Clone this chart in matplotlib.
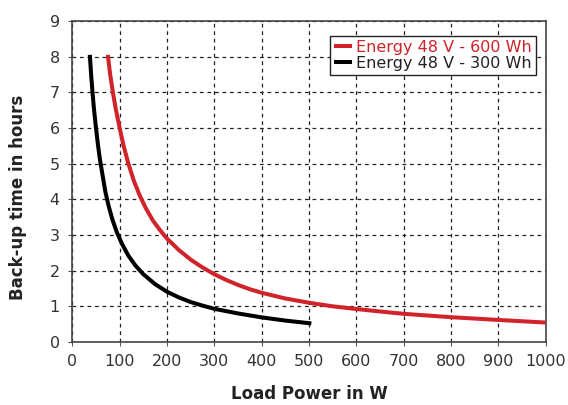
import matplotlib
matplotlib.use("Agg")
import matplotlib.pyplot as plt

# Data
p600 = [75, 80, 86, 92, 100, 108, 118, 130, 142, 155, 170, 185, 200, 225, 250, 275, 300,
        325, 350, 375, 400, 450, 500, 550, 600, 650, 700, 800, 900, 1000]
t600 = [8.05, 7.5, 6.98, 6.52, 6.0, 5.52, 5.02, 4.52, 4.12, 3.76, 3.41, 3.14, 2.9, 2.58,
        2.31, 2.09, 1.9, 1.74, 1.6, 1.48, 1.38, 1.22, 1.1, 1.0, 0.925, 0.855, 0.79, 0.695,
        0.618, 0.545]

p300 = [37, 40, 43, 46, 50, 54, 58, 63, 70, 77, 85, 94, 105, 118, 133, 150, 175,
        200, 225, 250, 275, 300, 350, 400, 450, 505]
t300 = [8.05, 7.45, 6.95, 6.5, 6.0, 5.55, 5.15, 4.75, 4.2, 3.8, 3.42, 3.08, 2.75, 2.43,
        2.15, 1.9, 1.62, 1.41, 1.25, 1.12, 1.02, 0.93, 0.8, 0.69, 0.6, 0.52]

label600 = "Energy 48 V - 600 Wh"
label300 = "Energy 48 V - 300 Wh"
xticks = list(range(0, 1001, 100))
yticks = list(range(0, 10))

red = "#d1232a"

fig = plt.figure(figsize=(5.68, 4.05), dpi=100)
ax = fig.add_axes([0.1273, 0.1556, 0.8333, 0.7926])

ax.plot(p600, t600, color=red, lw=2.9, solid_capstyle="butt", solid_joinstyle="round",
        label=label600, zorder=3)
ax.plot(p300, t300, color="black", lw=2.9, solid_capstyle="butt", solid_joinstyle="round",
        label=label300, zorder=3)

ax.set_xlim(0, 1000)
ax.set_ylim(0, 9)
ax.set_xticks(xticks)
ax.set_yticks(yticks)
ax.grid(True, color="#222222", linestyle=(0, (3, 3)), linewidth=0.9)
for s in ax.spines.values():
    s.set_color("#444444")
    s.set_linewidth(1.2)
ax.tick_params(axis="both", colors="#555555", labelcolor="#333333", labelsize=11.5,
               length=3, width=0.8, direction="out", pad=6)

ax.set_xlabel("Load Power in W", fontsize=12, fontweight="bold", color="#222222", labelpad=11)
ax.set_ylabel("Back-up time in hours", fontsize=12, fontweight="bold", color="#222222", labelpad=12)
ax.yaxis.set_label_coords(-0.095, 0.45)

leg = ax.legend(loc="upper right", bbox_to_anchor=(0.98, 0.953), fontsize=11.5,
                handlelength=1.1, handletextpad=0.3, borderpad=0.25, labelspacing=0.05,
                fancybox=False, framealpha=1, edgecolor="#222222", borderaxespad=0.0)
leg.get_frame().set_linewidth(1.0)
leg.get_texts()[0].set_color(red)
leg.get_texts()[1].set_color("#222222")

fig.savefig("out.png", dpi=100)
